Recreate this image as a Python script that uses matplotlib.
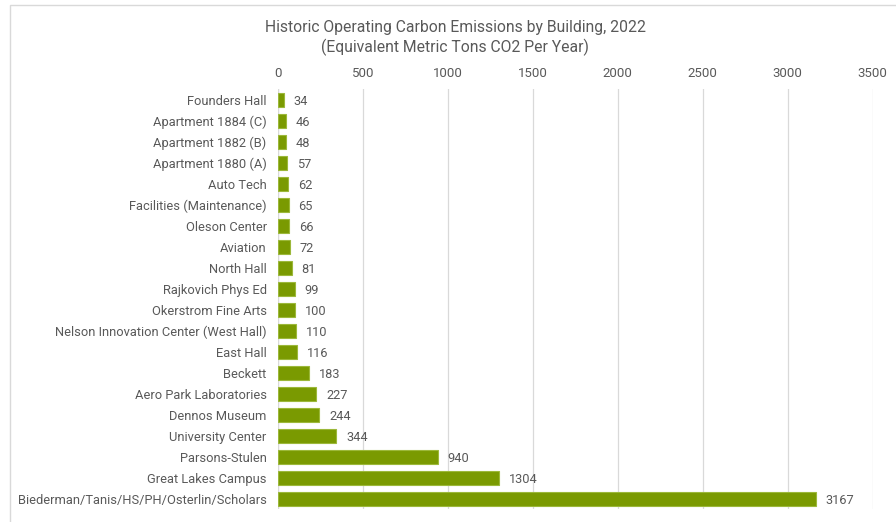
import matplotlib
matplotlib.use('Agg')
from matplotlib import pyplot as plt
from matplotlib.patches import Rectangle

buildings = [
    'Founders Hall',
    'Apartment 1884 (C)',
    'Apartment 1882 (B)',
    'Apartment 1880 (A)',
    'Auto Tech',
    'Facilities (Maintenance)',
    'Oleson Center',
    'Aviation',
    'North Hall',
    'Rajkovich Phys Ed',
    'Okerstrom Fine Arts',
    'Nelson Innovation Center (West Hall)',
    'East Hall',
    'Beckett',
    'Aero Park Laboratories',
    'Dennos Museum',
    'University Center',
    'Parsons-Stulen',
    'Great Lakes Campus',
    'Biederman/Tanis/HS/PH/Osterlin/Scholars',
]
emissions = [34, 46, 48, 57, 62, 65, 66, 72, 81, 99, 100, 110, 116, 183,
             227, 244, 344, 940, 1304, 3167]
x_ticks = [0, 500, 1000, 1500, 2000, 2500, 3000, 3500]

plt.rcParams['font.family'] = ['Roboto', 'DejaVu Sans']
TEXT = '#595959'

fig = plt.figure(figsize=(8.96, 5.22), dpi=100)
ax = fig.add_axes([0.310, 0.024, 0.664, 0.805])

ypos = list(range(len(buildings)))
ax.barh(ypos, emissions, height=0.68, color='#7a9a01', edgecolor='#9cb83a',
        linewidth=0.8, zorder=3)
for y, v in zip(ypos, emissions):
    ax.annotate(str(v), (v, y), xytext=(7, 0), textcoords='offset points',
                va='center_baseline', ha='left', fontsize=9.2, color=TEXT)

ax.set_yticks(ypos)
ax.set_yticklabels(buildings, fontsize=9.3, color=TEXT)
ax.set_ylim(len(buildings) - 0.5, -0.5)
ax.set_xlim(0, 3500)
ax.set_xticks(x_ticks)
ax.xaxis.tick_top()
ax.tick_params(axis='x', length=0, pad=7, labelsize=9.5, labelcolor=TEXT)
ax.tick_params(axis='y', length=0, pad=8)
ax.grid(True, axis='x', color='#d9d9d9', linewidth=0.9, zorder=0)
for s in ax.spines.values():
    s.set_visible(False)
ax.axvline(0, color='#d9d9d9', linewidth=0.9, zorder=1)

fig.text(0.508, 0.948, 'Historic Operating Carbon Emissions by Building, 2022',
         ha='center', va='center', fontsize=11.3, color=TEXT)
fig.text(0.508, 0.91, '(Equivalent Metric Tons CO2 Per Year)',
         ha='center', va='center', fontsize=11.3, color=TEXT)

fig.patches.append(Rectangle((10 / 896, -0.1), 1.2, 1.1 - 5 / 522,
                             transform=fig.transFigure, fill=False,
                             edgecolor='#d9d9d9', linewidth=1.0))

fig.savefig('out.png', dpi=100)
